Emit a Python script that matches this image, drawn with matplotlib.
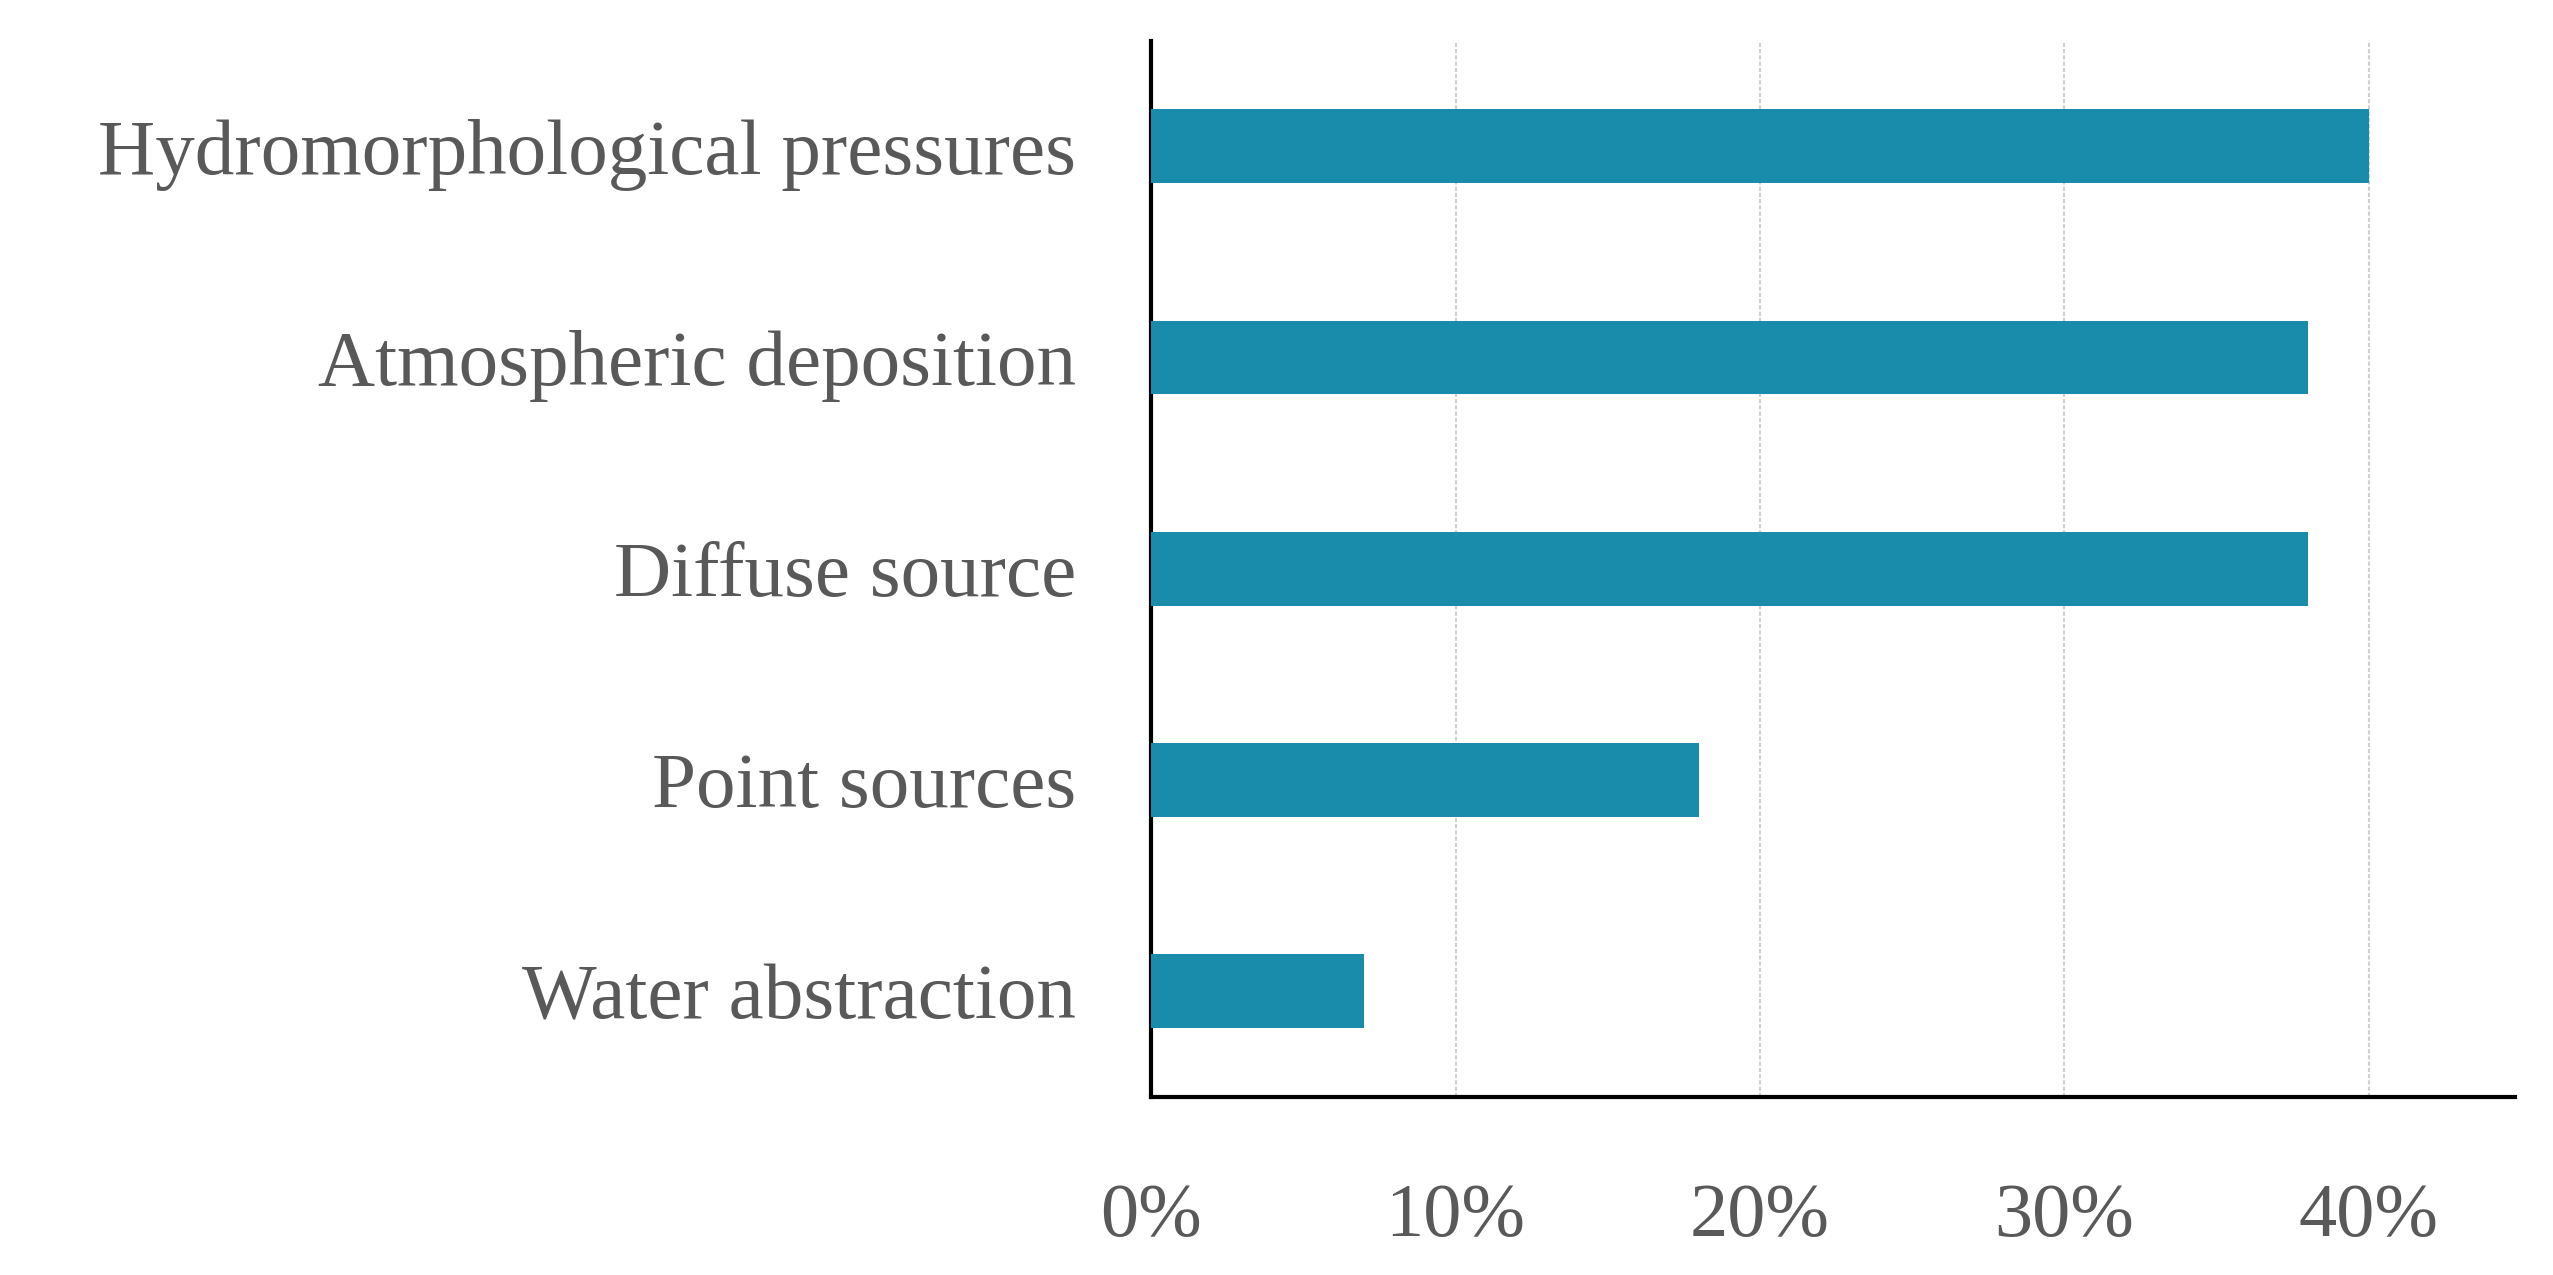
import matplotlib
matplotlib.use('Agg')
import matplotlib.pyplot as plt
from matplotlib.ticker import PercentFormatter

categories = ['Hydromorphological pressures', 'Atmospheric deposition',
              'Diffuse source', 'Point sources', 'Water abstraction']
shares = [40, 38, 38, 18, 7]
x_ticks = [0, 10, 20, 30, 40]

bar_color = '#198cab'
text_color = '#595959'

plt.rcParams['font.family'] = ['Liberation Serif', 'DejaVu Serif']

fig = plt.figure(figsize=(25.53, 12.75), dpi=100)
ax = fig.add_axes([0.451, 0.140, 0.534, 0.828])

ax.barh(range(len(categories)), shares, height=0.35, color=bar_color, zorder=3)

ax.set_xlim(0, 44.8)
ax.set_ylim(len(categories) - 0.5, -0.5)
ax.set_yticks(range(len(categories)))
ax.set_yticklabels(categories)
ax.set_xticks(x_ticks)
ax.xaxis.set_major_formatter(PercentFormatter(decimals=0))

ax.tick_params(axis='both', length=0, labelcolor=text_color)
ax.tick_params(axis='x', pad=62, labelsize=55)
ax.tick_params(axis='y', pad=54, labelsize=57)

ax.grid(True, axis='x', color='#d0d0d0', linewidth=1.5, linestyle=(0, (2, 1)), zorder=0)
ax.set_axisbelow(True)

for side in ['top', 'right']:
    ax.spines[side].set_visible(False)
for side in ['left', 'bottom']:
    ax.spines[side].set_linewidth(3)
    ax.spines[side].set_color('black')

fig.savefig('out.png', dpi=100)
